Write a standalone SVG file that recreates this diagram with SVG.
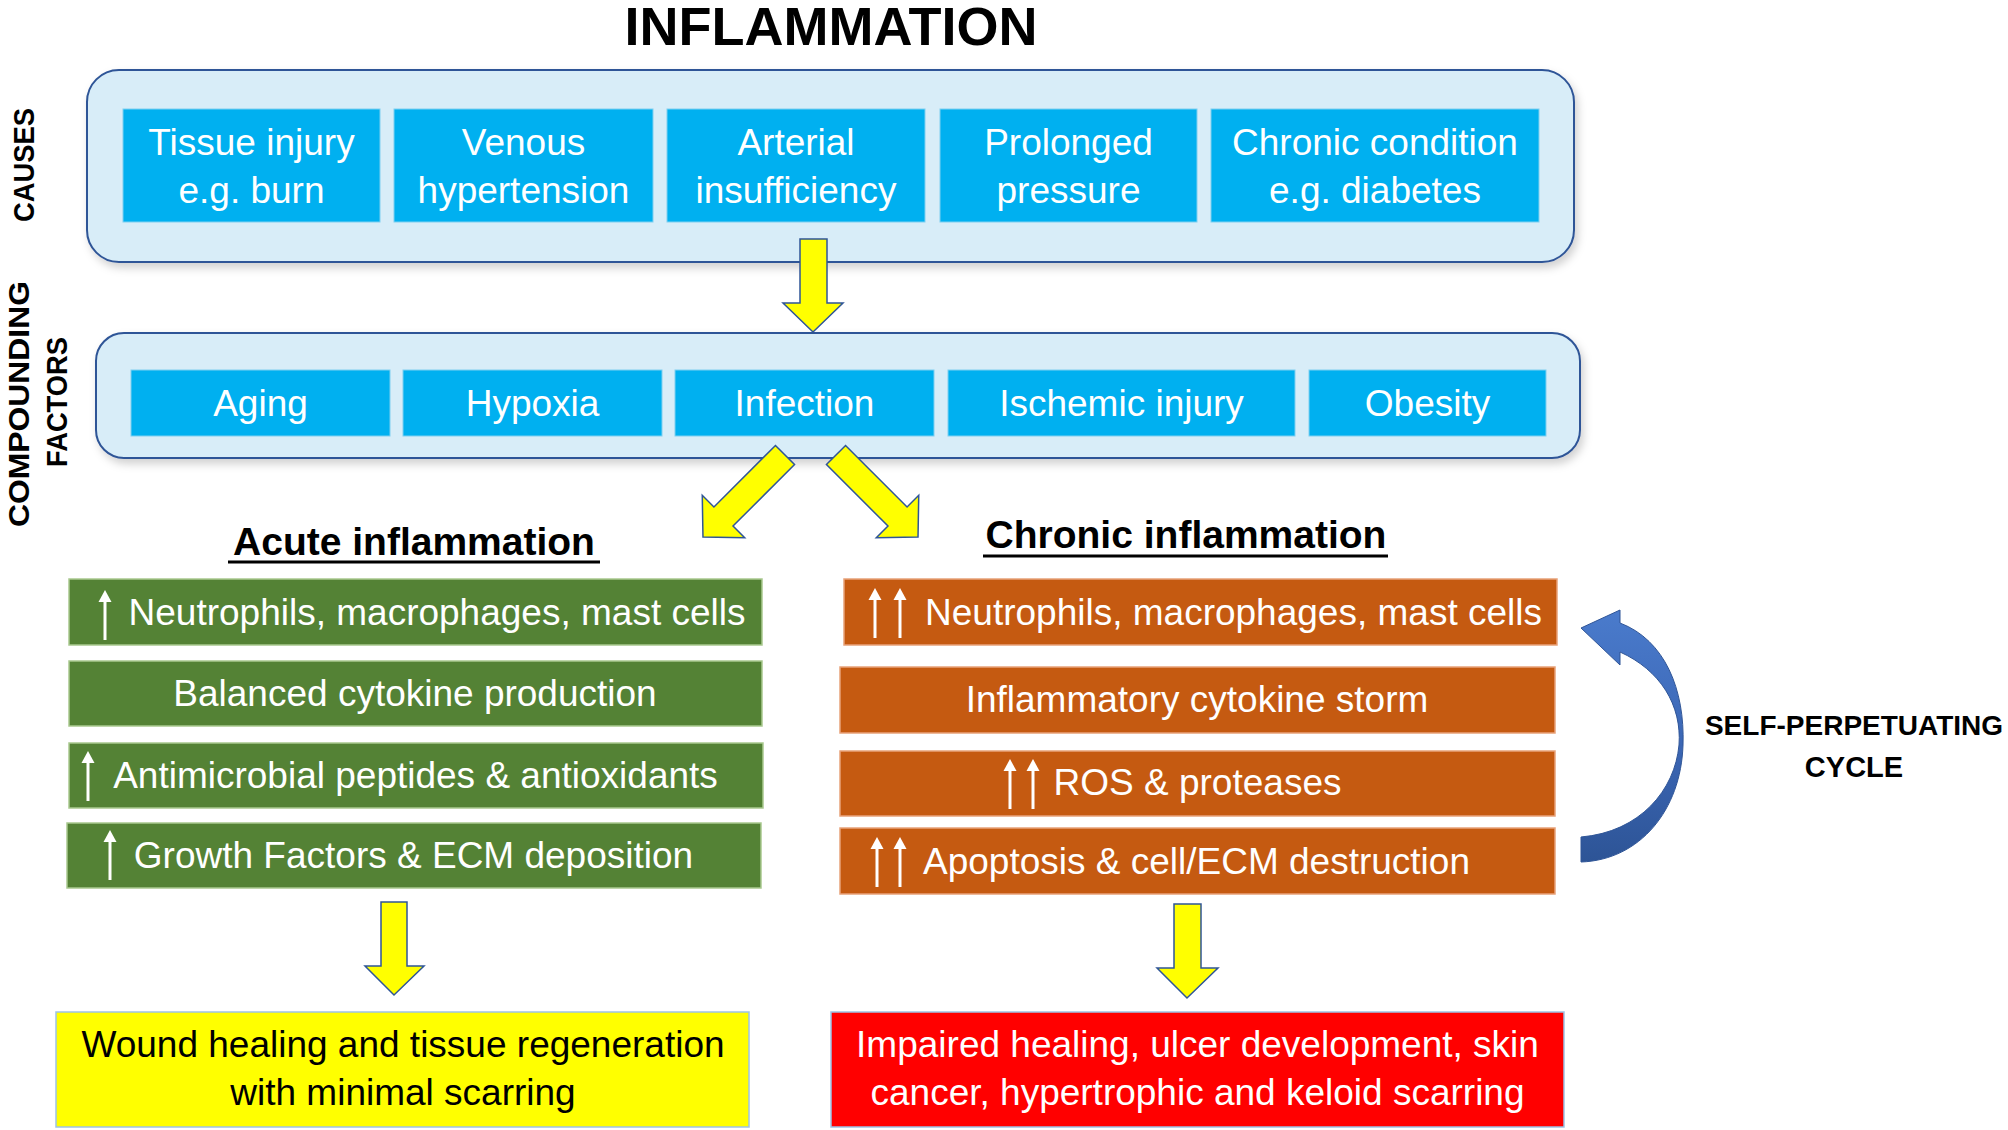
<svg xmlns="http://www.w3.org/2000/svg" width="2008" height="1130" viewBox="0 0 2008 1130">
<defs>
<style>
.t{font-family:"Liberation Sans",Arial,sans-serif;font-size:37px;fill:#fff;text-anchor:middle}
.k{fill:#000}
.b{font-weight:bold}
.lbl{font-family:"Liberation Sans",Arial,sans-serif;font-weight:bold;font-size:30px;fill:#000;text-anchor:middle}
.outer{fill:#D8EDF8;stroke:#2F5597;stroke-width:2}
.cyan{fill:#00B0F0;stroke:#7fd0f0;stroke-width:1}
.green{fill:#548235;stroke:#a9c98f;stroke-width:1.5}
.orange{fill:#C55A11;stroke:#e8a27a;stroke-width:1.5}
.yarrow{fill:#FFFF00;stroke:#2F5597;stroke-width:1.5;stroke-linejoin:miter}
.up{stroke:#fff;stroke-width:3;fill:none}
.uph{fill:#fff}
.ul{stroke:#000;stroke-width:3}
</style>
<filter id="sh" x="-5%" y="-20%" width="110%" height="150%">
<feDropShadow dx="3" dy="5" stdDeviation="4" flood-color="#000" flood-opacity="0.18"/>
</filter>
<linearGradient id="bg" x1="0" y1="0" x2="0" y2="1">
<stop offset="0" stop-color="#4A7BCC"/>
<stop offset="0.55" stop-color="#3B66B4"/>
<stop offset="1" stop-color="#2D5496"/>
</linearGradient>
<g id="uparrow">
<line class="up" x1="0" y1="10" x2="0" y2="50"/>
<path class="uph" d="M-6.5 12 L0 0 L6.5 12 Z"/>
</g>
</defs>
<rect width="2008" height="1130" fill="#fff"/>

<text x="831" y="45" class="t k b" style="font-size:54px">INFLAMMATION</text>

<g id="label-causes">
<text class="lbl" transform="translate(34,165) rotate(-90)" textLength="114" lengthAdjust="spacingAndGlyphs">CAUSES</text>
</g>
<g id="label-compounding">
<text class="lbl" transform="translate(29,404) rotate(-90)" textLength="246" lengthAdjust="spacingAndGlyphs">COMPOUNDING</text>
<text class="lbl" transform="translate(67,402) rotate(-90)" textLength="130" lengthAdjust="spacingAndGlyphs">FACTORS</text>
</g>

<g id="causes-group">
<rect class="outer" filter="url(#sh)" x="87" y="70" width="1487" height="192" rx="32"/>
</g>
<g id="cause-tissue"><rect class="cyan" x="123" y="109" width="257" height="113"/><text class="t" x="251.5" y="155">Tissue injury</text><text class="t" x="251.5" y="203">e.g. burn</text></g>
<g id="cause-venous"><rect class="cyan" x="394" y="109" width="259" height="113"/><text class="t" x="523.5" y="155">Venous</text><text class="t" x="523.5" y="203">hypertension</text></g>
<g id="cause-arterial"><rect class="cyan" x="667" y="109" width="258" height="113"/><text class="t" x="796" y="155">Arterial</text><text class="t" x="796" y="203">insufficiency</text></g>
<g id="cause-pressure"><rect class="cyan" x="940" y="109" width="257" height="113"/><text class="t" x="1068.5" y="155">Prolonged</text><text class="t" x="1068.5" y="203">pressure</text></g>
<g id="cause-chronic"><rect class="cyan" x="1211" y="109" width="328" height="113"/><text class="t" x="1375" y="155">Chronic condition</text><text class="t" x="1375" y="203">e.g. diabetes</text></g>

<g id="compounding-group">
<rect class="outer" filter="url(#sh)" x="96" y="333" width="1484" height="125" rx="28"/>
</g>
<g id="factor-aging"><rect class="cyan" x="131" y="370" width="259" height="66"/><text class="t" x="260.5" y="416">Aging</text></g>
<g id="factor-hypoxia"><rect class="cyan" x="403" y="370" width="259" height="66"/><text class="t" x="532.5" y="416">Hypoxia</text></g>
<g id="factor-infection"><rect class="cyan" x="675" y="370" width="259" height="66"/><text class="t" x="804.5" y="416">Infection</text></g>
<g id="factor-ischemic"><rect class="cyan" x="948" y="370" width="347" height="66"/><text class="t" x="1121.5" y="416">Ischemic injury</text></g>
<g id="factor-obesity"><rect class="cyan" x="1309" y="370" width="237" height="66"/><text class="t" x="1427.5" y="416">Obesity</text></g>

<g id="acute-heading">
<text class="t k b" x="414" y="555" style="font-size:39px">Acute inflammation</text>
<line class="ul" x1="228" y1="562" x2="600" y2="562"/>
</g>
<g id="chronic-heading">
<text class="t k b" x="1186" y="548" style="font-size:39px">Chronic inflammation</text>
<line class="ul" x1="983" y1="556" x2="1388" y2="556"/>
</g>

<g id="acute-1"><rect class="green" x="69" y="579" width="693" height="66"/><use href="#uparrow" x="105" y="590"/><text class="t" x="437" y="625">Neutrophils, macrophages, mast cells</text></g>
<g id="acute-2"><rect class="green" x="69" y="661" width="693" height="65"/><text class="t" x="415" y="706">Balanced cytokine production</text></g>
<g id="acute-3"><rect class="green" x="69" y="743" width="694" height="65"/><use href="#uparrow" x="88" y="751"/><text class="t" x="415.5" y="788">Antimicrobial peptides &amp; antioxidants</text></g>
<g id="acute-4"><rect class="green" x="67" y="823" width="694" height="65"/><use href="#uparrow" x="110" y="830"/><text class="t" x="413.5" y="868">Growth Factors &amp; ECM deposition</text></g>

<g id="chronic-1"><rect class="orange" x="844" y="579" width="713" height="66"/><use href="#uparrow" x="875" y="588"/><use href="#uparrow" x="900" y="588"/><text class="t" x="1233.5" y="625">Neutrophils, macrophages, mast cells</text></g>
<g id="chronic-2"><rect class="orange" x="840" y="667" width="715" height="66"/><text class="t" x="1197" y="712">Inflammatory cytokine storm</text></g>
<g id="chronic-3"><rect class="orange" x="840" y="751" width="715" height="65"/><use href="#uparrow" x="1010" y="759"/><use href="#uparrow" x="1033" y="759"/><text class="t" x="1197.5" y="795">ROS &amp; proteases</text></g>
<g id="chronic-4"><rect class="orange" x="840" y="828" width="715" height="66"/><use href="#uparrow" x="877" y="837"/><use href="#uparrow" x="900" y="837"/><text class="t" x="1196.5" y="874">Apoptosis &amp; cell/ECM destruction</text></g>

<g id="result-acute"><rect x="56" y="1012" width="693" height="115" fill="#FFFF00" stroke="#9DC3E6" stroke-width="1.5"/><text class="t k" x="403" y="1057">Wound healing and tissue regeneration</text><text class="t k" x="403" y="1105">with minimal scarring</text></g>
<g id="result-chronic"><rect x="831" y="1012" width="733" height="115" fill="#FF0000" stroke="#9DC3E6" stroke-width="1.5"/><text class="t" x="1197.5" y="1057">Impaired healing, ulcer development, skin</text><text class="t" x="1197.5" y="1105">cancer, hypertrophic and keloid scarring</text></g>

<g id="cycle-label">
<text class="t k b" x="1854" y="735" style="font-size:28px">SELF-PERPETUATING</text>
<text class="t k b" x="1854" y="777" style="font-size:29px">CYCLE</text>
</g>

<g id="connectors">
<path class="yarrow" d="M800 239 H827 V303 H843 L813 332 L783 303 H800 Z"/>
<path class="yarrow" transform="translate(785,455) rotate(45)" d="M-13.5 0 H13.5 V87 H30 L0 116 L-30 87 H-13.5 Z"/>
<path class="yarrow" transform="translate(836,455) rotate(-45)" d="M-13.5 0 H13.5 V87 H30 L0 116 L-30 87 H-13.5 Z"/>
<path class="yarrow" d="M381 902 H407 V966 H424 L394 995 L365 966 H381 Z"/>
<path class="yarrow" d="M1174 904 H1201 V968 H1218 L1187 998 L1157 968 H1174 Z"/>
<path id="cycle-arrow" fill="url(#bg)" stroke="#2F5597" stroke-width="1" d="M1581 837 C1640 832 1675 790 1679 745 C1682 705 1660 670 1620 652 L1620 665 L1581 628 L1620 610 L1620 623 C1665 640 1685 690 1683 745 C1681 810 1640 860 1581 862 Z"/>
</g>
</svg>
